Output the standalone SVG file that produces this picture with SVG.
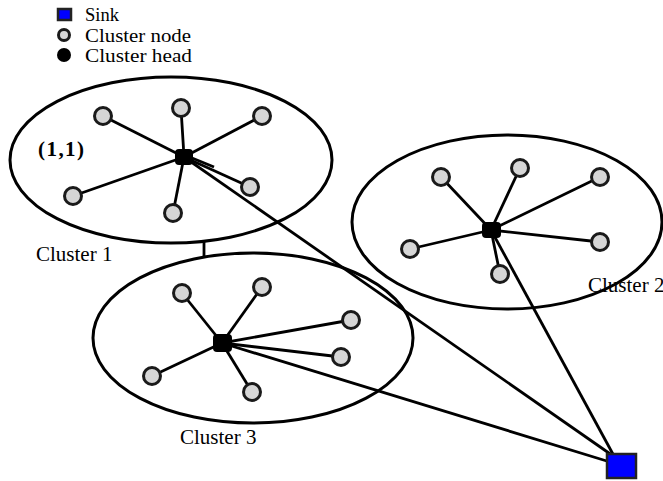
<svg xmlns="http://www.w3.org/2000/svg" width="663" height="481" viewBox="0 0 663 481">
<style>
.ell{fill:none;stroke:#000;stroke-width:3}
.ln{stroke:#000;stroke-width:2.8;fill:none}
.cn{fill:#d6d6d6;stroke:#1a1a1a;stroke-width:3}
.ch{fill:#000}
.sink{fill:#0000ff;stroke:#222;stroke-width:2.5}
.t{font-family:"Liberation Serif","Times New Roman",serif;font-size:21px;fill:#000}
.lg{font-size:18.5px}
</style>
<rect width="663" height="481" fill="#fff"/>
<g id="legend">
<rect class="sink" x="58" y="9" width="13" height="11" stroke-width="2"/>
<circle class="cn" cx="64" cy="35" r="5.5" stroke-width="3"/>
<circle class="ch" cx="64" cy="55" r="7"/>
<text class="t lg" x="85" y="21" textLength="34" lengthAdjust="spacingAndGlyphs">Sink</text>
<text class="t lg" x="85" y="42" textLength="106" lengthAdjust="spacingAndGlyphs">Cluster node</text>
<text class="t lg" x="85" y="62" textLength="107" lengthAdjust="spacingAndGlyphs">Cluster head</text>
</g>
<g id="clusters">
<ellipse id="cluster1" class="ell" cx="171" cy="160" rx="161" ry="83"/>
<ellipse id="cluster2" class="ell" cx="507" cy="222" rx="155" ry="87"/>
<ellipse id="cluster3" class="ell" cx="253" cy="338" rx="160" ry="85"/>
<line class="ln" x1="204" y1="241" x2="204" y2="257" stroke-width="2"/>
</g>
<g id="connectors">
<line class="ln" x1="184" y1="157" x2="103" y2="116"/>
<line class="ln" x1="184" y1="157" x2="181" y2="108"/>
<line class="ln" x1="184" y1="157" x2="262" y2="116"/>
<line class="ln" x1="184" y1="157" x2="73" y2="196"/>
<line class="ln" x1="184" y1="157" x2="173" y2="213"/>
<line class="ln" x1="184" y1="157" x2="250" y2="187"/>
<line class="ln" x1="192" y1="158" x2="214" y2="167" stroke-width="2"/>
<line class="ln" x1="491" y1="230" x2="441" y2="177"/>
<line class="ln" x1="491" y1="230" x2="520" y2="168"/>
<line class="ln" x1="491" y1="230" x2="600" y2="177"/>
<line class="ln" x1="491" y1="230" x2="600" y2="242"/>
<line class="ln" x1="491" y1="230" x2="410" y2="249"/>
<line class="ln" x1="491" y1="230" x2="500" y2="274"/>
<line class="ln" x1="222" y1="343" x2="182" y2="293"/>
<line class="ln" x1="222" y1="343" x2="262" y2="287"/>
<line class="ln" x1="222" y1="343" x2="351" y2="320"/>
<line class="ln" x1="222" y1="343" x2="341" y2="357"/>
<line class="ln" x1="222" y1="343" x2="152" y2="376"/>
<line class="ln" x1="222" y1="343" x2="252" y2="392"/>
<line class="ln" x1="184" y1="157" x2="616" y2="458"/>
<line class="ln" x1="491" y1="230" x2="614" y2="456"/>
<line class="ln" x1="222" y1="343" x2="610" y2="462"/>
</g>
<g id="cluster1-nodes">
<circle class="cn" cx="103" cy="116" r="8.5"/>
<circle class="cn" cx="181" cy="108" r="8.5"/>
<circle class="cn" cx="262" cy="116" r="8.5"/>
<circle class="cn" cx="73" cy="196" r="8.5"/>
<circle class="cn" cx="173" cy="213" r="8.5"/>
<circle class="cn" cx="250" cy="187" r="8.5"/>
<rect id="head1" class="ch" x="175" y="149" width="18" height="16" rx="4"/>
<text class="t" x="38" y="156" font-size="16" font-weight="bold" fill="#666" textLength="46" lengthAdjust="spacing">(1,1)</text>
<text class="t" x="36" y="261">Cluster 1</text>
</g>
<g id="cluster2-nodes">
<circle class="cn" cx="441" cy="177" r="8.5"/>
<circle class="cn" cx="520" cy="168" r="8.5"/>
<circle class="cn" cx="600" cy="177" r="8.5"/>
<circle class="cn" cx="600" cy="242" r="8.5"/>
<circle class="cn" cx="410" cy="249" r="8.5"/>
<circle class="cn" cx="500" cy="274" r="8.5"/>
<rect id="head2" class="ch" x="482" y="222" width="19" height="16" rx="4"/>
<text class="t" x="588" y="292">Cluster 2</text>
</g>
<g id="cluster3-nodes">
<circle class="cn" cx="182" cy="293" r="8.5"/>
<circle class="cn" cx="262" cy="287" r="8.5"/>
<circle class="cn" cx="351" cy="320" r="8.5"/>
<circle class="cn" cx="341" cy="357" r="8.5"/>
<circle class="cn" cx="152" cy="376" r="8.5"/>
<circle class="cn" cx="252" cy="392" r="8.5"/>
<rect id="head3" class="ch" x="213" y="334" width="19" height="18" rx="4"/>
<text class="t" x="180" y="444">Cluster 3</text>
</g>
<g id="sink">
<rect class="sink" x="607" y="454" width="29" height="24"/>
</g>
</svg>
